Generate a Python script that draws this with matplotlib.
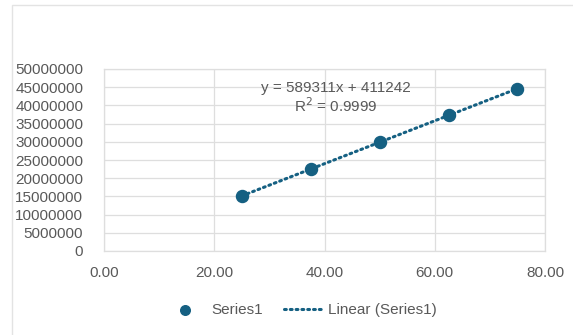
import matplotlib.pyplot as plt
import numpy as np
from matplotlib.patches import Rectangle

# data
x_vals = [25.0, 37.5, 50.0, 62.5, 75.0]
y_vals = [15100000, 22500000, 29900000, 37250000, 44600000]
slope = 589311
intercept = 411242
r_squared = 0.9999
x_ticks = [0, 20, 40, 60, 80]
y_ticks = list(range(0, 50000001, 5000000))

blue = "#156082"
grey_text = "#595959"
grid_col = "#DEDEDE"

plt.rcParams['font.family'] = ['Liberation Sans', 'DejaVu Sans']

fig = plt.figure(figsize=(5.73, 3.35), dpi=100)
fig.patches.append(Rectangle((12 / 573, -0.1), 1.2, 1 - 5 / 335 + 0.1,
                             transform=fig.transFigure, fill=False,
                             edgecolor="#E3E3E3", linewidth=1))
ax = fig.add_axes([104 / 573, 1 - 251 / 335, 441 / 573, 182 / 335])

# trendline
tx = np.array([min(x_vals), max(x_vals)])
ax.plot(tx, slope * tx + intercept, linestyle=(0, (0.6, 1.3)), color=blue,
        linewidth=2.2, dash_capstyle='round', label="Linear (Series1)", zorder=2)
ax.scatter(x_vals, y_vals, s=75, color=blue, label="Series1", zorder=3)

ax.set_xlim(0, 80)
ax.set_ylim(0, 50000000)
ax.set_xticks(x_ticks)
ax.set_xticklabels([f"{v:.2f}" for v in x_ticks])
ax.set_yticks(y_ticks)
ax.set_yticklabels([str(v) for v in y_ticks])
ax.tick_params(axis='both', length=0, labelsize=11, colors=grey_text)
ax.tick_params(axis='y', pad=15)
ax.tick_params(axis='x', pad=11)
ax.grid(True, color=grid_col, linewidth=0.9)
ax.set_axisbelow(True)
for sp in ax.spines.values():
    sp.set_color(grid_col)
    sp.set_linewidth(0.9)

ax.text(336 / 573, 1 - 88 / 335, f"y = {slope}x + {intercept}",
        transform=fig.transFigure, ha='center', va='center',
        fontsize=11, color=grey_text)
ax.text(336 / 573, 1 - 106 / 335, f"R$^2$ = {r_squared}",
        transform=fig.transFigure, ha='center', va='center',
        fontsize=11, color=grey_text)

handles, labels = ax.get_legend_handles_labels()
fig.legend(handles[::-1], labels[::-1], loc='center', bbox_to_anchor=(302 / 573, 1 - 310 / 335),
           ncol=2, frameon=False, fontsize=11, labelcolor=grey_text,
           handlelength=2.4, handletextpad=0.5, columnspacing=1.4, markerscale=0.8)

fig.savefig("out.png", dpi=100)
